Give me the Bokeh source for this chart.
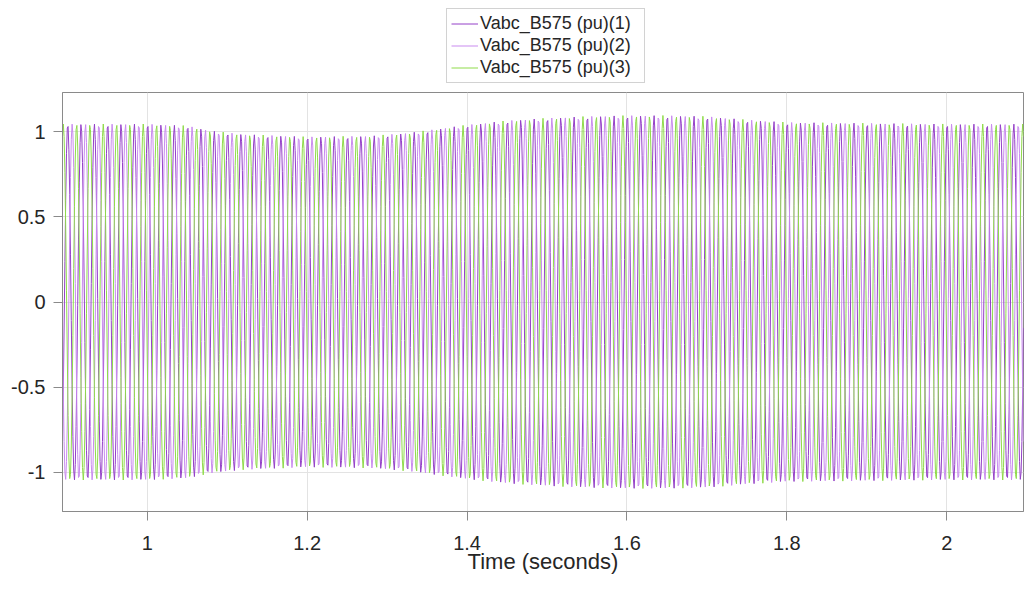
import numpy as np
from bokeh.plotting import figure
from bokeh.layouts import column
from bokeh.models import Range1d, FixedTicker, Legend, LegendItem
from bokeh.embed import file_html
from bokeh.resources import INLINE

# ---- data ----
series_names = ["Vabc_B575 (pu)(1)", "Vabc_B575 (pu)(2)", "Vabc_B575 (pu)(3)"]
series_colors = ["#9440C8", "#C98BEF", "#8FDB4A"]
phase_shift_deg = [-120.0, 120.0, 0.0]
frequency_hz = 60.0
sample_step_s = 0.001
t_start, t_end = 0.894, 2.097
# amplitude envelope (pu)
env_time = [0.894, 0.95, 1.0, 1.05, 1.08, 1.12, 1.2, 1.28, 1.33, 1.4, 1.45, 1.5,
            1.55, 1.6, 1.65, 1.7, 1.75, 1.8, 1.9, 2.0, 2.1]
env_amp = [1.045, 1.045, 1.045, 1.035, 1.005, 0.985, 0.97, 0.975, 0.995, 1.04, 1.065, 1.08,
           1.09, 1.095, 1.095, 1.09, 1.07, 1.055, 1.05, 1.045, 1.045]
x_ticks = [1, 1.2, 1.4, 1.6, 1.8, 2]
x_tick_labels = ["1", "1.2", "1.4", "1.6", "1.8", "2"]
y_ticks = [-1, -0.5, 0, 0.5, 1]
y_tick_labels = ["-1", "-0.5", "0", "0.5", "1"]

t = np.arange(t_start, t_end, sample_step_s)
amp = np.interp(t, env_time, env_amp)
theta = 2 * np.pi * frequency_hz * (t - 0.895)

FONT = "Liberation Sans"
W = 1026

# ---- main plot ----
p = figure(width=W, height=498, output_backend="svg", toolbar_location=None,
           x_range=Range1d(t_start, 2.096), y_range=Range1d(-1.23, 1.23),
           min_border_left=62, min_border_right=3, min_border_bottom=79, min_border_top=0)

for col, sh in zip(series_colors, phase_shift_deg):
    y = amp * np.cos(theta + np.deg2rad(sh))
    p.line(t, y, line_color=col, line_width=1)

p.xaxis.ticker = FixedTicker(ticks=x_ticks)
p.yaxis.ticker = FixedTicker(ticks=y_ticks)
p.xaxis.major_label_overrides = {v: s for v, s in zip(x_ticks, x_tick_labels)}
p.yaxis.major_label_overrides = {v: s for v, s in zip(y_ticks, y_tick_labels)}
p.xaxis.axis_label = "Time (seconds)"
p.xaxis.axis_label_text_font = FONT
p.xaxis.axis_label_text_font_size = "22px"
p.xaxis.axis_label_text_font_style = "normal"
p.xaxis.axis_label_text_color = "#262626"
p.xaxis.axis_label_standoff = -4
for ax in (p.xaxis, p.yaxis):
    ax.major_label_text_font = FONT
    ax.major_label_text_font_size = "20px"
    ax.major_label_text_color = "#262626"
    ax.minor_tick_line_color = None
    ax.major_tick_in = 0
    ax.major_tick_out = 9
    ax.major_tick_line_color = "#8a8a8a"
    ax.axis_line_color = "#8a8a8a"
p.xaxis.major_label_standoff = 15
p.yaxis.major_label_standoff = 8
p.outline_line_color = "#8a8a8a"
p.grid.grid_line_color = "#e3e3e3"
p.grid.grid_line_width = 1
p.background_fill_color = "white"
p.border_fill_color = "white"

# ---- legend strip above the plot ----
lg = figure(width=W, height=92, output_backend="svg", toolbar_location=None,
            x_range=Range1d(0, 1), y_range=Range1d(0, 1),
            x_axis_location=None, y_axis_location=None,
            min_border_left=0, min_border_right=0, min_border_top=0, min_border_bottom=0)
lg.outline_line_color = None
lg.grid.visible = False
items = []
for name, col in zip(series_names, series_colors):
    # keys only: data kept outside the visible range of this legend strip
    r = lg.line([5, 6], [5, 6], line_color=col, line_width=1)
    items.append(LegendItem(label=name, renderers=[r]))
legend = Legend(items=items, location=(384, 9), orientation="vertical",
                label_text_font=FONT, label_text_font_size="18px", label_text_color="#262626",
                glyph_width=27, glyph_height=21, label_height=21, label_width=160, spacing=1,
                padding=4, label_standoff=2, margin=0, border_line_color="#a6a6a6",
                border_line_width=1, background_fill_color="white", background_fill_alpha=1.0)
lg.add_layout(legend)

open("out.html", "w").write(file_html(column(lg, p, spacing=0), INLINE))
